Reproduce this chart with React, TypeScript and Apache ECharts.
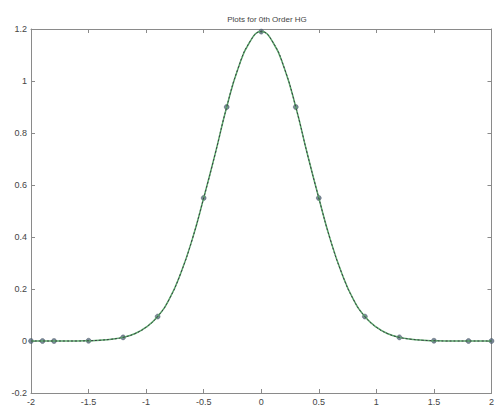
import React, { useEffect, useRef } from "react";
import * as echarts from "echarts";

// Curve values (x, y)
const curveX = [-2, -1.9, -1.8, -1.7, -1.6, -1.5, -1.4, -1.3, -1.2, -1.1, -1.0, -0.9, -0.8, -0.7, -0.6, -0.5, -0.4, -0.3, -0.2, -0.1, 0, 0.1, 0.2, 0.3, 0.4, 0.5, 0.6, 0.7, 0.8, 0.9, 1.0, 1.1, 1.2, 1.3, 1.4, 1.5, 1.6, 1.7, 1.8, 1.9, 2];
const curveY = [0, 0, 0, 0, 0, 0.001, 0.003, 0.007, 0.014, 0.028, 0.053, 0.094, 0.16, 0.26, 0.39, 0.55, 0.72, 0.9, 1.05, 1.15, 1.19, 1.15, 1.05, 0.9, 0.72, 0.55, 0.39, 0.26, 0.16, 0.094, 0.053, 0.028, 0.014, 0.007, 0.003, 0.001, 0, 0, 0, 0, 0];

// Sample markers
const markerX = [-2, -1.9, -1.8, -1.5, -1.2, -0.9, -0.5, -0.3, 0, 0.3, 0.5, 0.9, 1.2, 1.5, 1.8, 2];
const markerY = [0, 0, 0, 0.001, 0.014, 0.094, 0.55, 0.9, 1.19, 0.9, 0.55, 0.094, 0.014, 0.001, 0, 0];

const titleText = "Plots for 0th Order HG";

export default function App() {
  const ref = useRef<HTMLDivElement>(null);
  useEffect(() => {
    if (!ref.current) return;
    const chart = echarts.init(ref.current, null, { renderer: "svg" });
    const fmt = (v: number) => String(Math.round(v * 10) / 10);
    const axisColor = "#8a8a8a";
    const labelStyle = { color: "#444", fontSize: 9, fontFamily: "Liberation Sans, Arial, sans-serif" };
    const curve = curveX.map((x, i) => [x, curveY[i]]);
    const markers = markerX.map((x, i) => [x, markerY[i]]);
    const line = { show: true, onZero: false, lineStyle: { color: axisColor } };
    const tick = { show: true, inside: true, length: 4, lineStyle: { color: axisColor } };
    chart.setOption({
      animation: false,
      backgroundColor: "#ffffff",
      title: {
        text: titleText,
        left: 262,
        textAlign: "center",
        top: 10,
        textStyle: { fontSize: 8, fontWeight: "normal", color: "#444", fontFamily: "Liberation Sans, Arial, sans-serif" },
      },
      grid: { left: 31, right: 2, top: 29, bottom: 17 },
      xAxis: [
        {
          type: "value", position: "bottom", min: -2, max: 2, interval: 0.5,
          axisLine: line, axisTick: tick,
          axisLabel: { ...labelStyle, margin: 4, formatter: fmt },
          splitLine: { show: false },
        },
        {
          type: "value", position: "top", min: -2, max: 2, interval: 0.5,
          axisLine: line, axisTick: tick,
          axisLabel: { show: false },
          splitLine: { show: false },
        },
      ],
      yAxis: [
        {
          type: "value", position: "left", min: -0.2, max: 1.2, interval: 0.2,
          axisLine: line, axisTick: tick,
          axisLabel: { ...labelStyle, margin: 4, formatter: fmt },
          splitLine: { show: false },
        },
        {
          type: "value", position: "right", min: -0.2, max: 1.2, interval: 0.2,
          axisLine: line, axisTick: tick,
          axisLabel: { show: false },
          splitLine: { show: false },
        },
      ],
      series: [
        {
          type: "line", data: curve, smooth: true, showSymbol: false,
          lineStyle: { color: "#5aa86a", width: 1.5 },
        },
        {
          type: "line", data: curve, smooth: true, showSymbol: false,
          lineStyle: { color: "#3a3f44", width: 1, type: [2, 2] },
        },
        {
          type: "scatter", data: markers, symbol: "circle", symbolSize: 5,
          itemStyle: { color: "#5a6c80", borderColor: "#3d4a5a", borderWidth: 0.5 },
        },
      ],
    });
    return () => chart.dispose();
  }, []);
  return (
    <div
      ref={ref}
      style={{ position: "fixed", left: 0, top: 0, width: 497, height: 410, background: "#fff" }}
    />
  );
}
